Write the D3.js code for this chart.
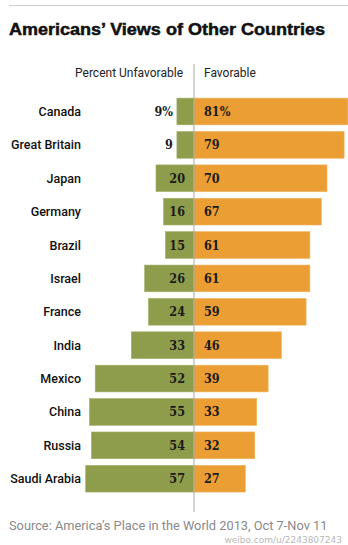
<!DOCTYPE html>
<html><head><meta charset="utf-8">
<script src="https://cdn.jsdelivr.net/npm/d3@7"></script>
<style>html,body{margin:0;padding:0;background:#fff;}svg{display:block;}</style>
</head><body>
<script>
const countries = ["Canada","Great Britain","Japan","Germany","Brazil","Israel","France","India","Mexico","China","Russia","Saudi Arabia"];
const unfavorable = [9,9,20,16,15,26,24,33,52,55,54,57];
const favorable = [81,79,70,67,61,61,59,46,39,33,32,27];
const title = "Americans\u2019 Views of Other Countries";
const headUnf = "Percent Unfavorable";
const headFav = "Favorable";
const source = "Source: America\u2019s Place in the World 2013, Oct 7-Nov 11";
const watermark = "weibo.com/u/2243807243";

const W = 348, H = 545, cx = 194;
const svg = d3.select("body").append("svg").attr("width", W).attr("height", H);

const xFav = d3.scaleLinear().domain([0,100]).range([cx, cx + 190]);
const xUnf = d3.scaleLinear().domain([0,100]).range([cx, cx - 190]);
const y = d3.scaleBand().domain(countries).range([94.8, 495.4]).paddingInner(0.2).paddingOuter(0.1);

svg.append("line").attr("x1", 9).attr("x2", W).attr("y1", 5.5).attr("y2", 5.5).attr("stroke", "#cfcfcf").attr("stroke-width", 1);

svg.append("text").attr("x", 9).attr("y", 35).text(title)
  .attr("font-family", "Liberation Sans, Arial, sans-serif").attr("font-weight", 700)
  .attr("font-size", 16.5).attr("fill", "#111").attr("stroke", "#111").attr("stroke-width", 0.5)
  .attr("textLength", 316).attr("lengthAdjust", "spacingAndGlyphs");

svg.append("text").attr("x", 183).attr("y", 77).attr("text-anchor", "end").text(headUnf)
  .attr("font-family", "Roboto, sans-serif").attr("font-size", 12).attr("fill", "#222");
svg.append("text").attr("x", 204).attr("y", 77).text(headFav)
  .attr("font-family", "Roboto, sans-serif").attr("font-size", 12).attr("fill", "#222");

const rows = countries.map((c, i) => ({c, u: unfavorable[i], f: favorable[i], i}));

svg.selectAll("rect.unf").data(rows).join("rect").attr("class", "unf")
  .attr("x", d => xUnf(d.u)).attr("width", d => cx - xUnf(d.u))
  .attr("y", d => y(d.c)).attr("height", y.bandwidth())
  .attr("fill", "#8e9d4b").attr("stroke", "#a3b06a").attr("stroke-width", 0.6);

svg.selectAll("rect.fav").data(rows).join("rect").attr("class", "fav")
  .attr("x", cx).attr("width", d => xFav(d.f) - cx)
  .attr("y", d => y(d.c)).attr("height", y.bandwidth())
  .attr("fill", "#eb9e33").attr("stroke", "#efb25e").attr("stroke-width", 0.6);

svg.append("line").attr("x1", cx).attr("x2", cx).attr("y1", 64).attr("y2", 512)
  .attr("stroke", "#a8a8a8").attr("stroke-width", 1);

svg.selectAll("text.country").data(rows).join("text").attr("class", "country")
  .attr("x", 81).attr("y", d => y(d.c) + y.bandwidth()/2 + 4.5)
  .attr("text-anchor", "end").text(d => d.c)
  .attr("font-family", "Roboto, sans-serif").attr("font-weight", 500).attr("font-size", 12.5).attr("fill", "#111");

const numFont = "DejaVu Serif Condensed, DejaVu Serif, serif";
svg.selectAll("text.uval").data(rows).join("text").attr("class", "uval")
  .attr("x", d => (cx - xUnf(d.u)) < 25 ? xUnf(d.u) - 4 : cx - 9)
  .attr("y", d => y(d.c) + y.bandwidth()/2 + 4.5)
  .attr("text-anchor", "end")
  .text(d => d.i === 0 ? d.u + "%" : d.u)
  .attr("font-family", numFont).attr("font-weight", 700).attr("font-size", 12.5).attr("fill", "#1a1a1a");

svg.selectAll("text.fval").data(rows).join("text").attr("class", "fval")
  .attr("x", 204)
  .attr("y", d => y(d.c) + y.bandwidth()/2 + 4.5)
  .text(d => d.i === 0 ? d.f + "%" : d.f)
  .attr("font-family", numFont).attr("font-weight", 700).attr("font-size", 12.5).attr("fill", "#1a1a1a");

svg.append("text").attr("x", 9).attr("y", 530).text(source)
  .attr("font-family", "Roboto, sans-serif").attr("font-size", 12.8).attr("fill", "#8a8a8a");
svg.append("text").attr("x", 342).attr("y", 543).attr("text-anchor", "end").text(watermark)
  .attr("font-family", "DejaVu Sans, sans-serif").attr("font-size", 9).attr("fill", "#b8b8b8");
</script>
</body></html>
